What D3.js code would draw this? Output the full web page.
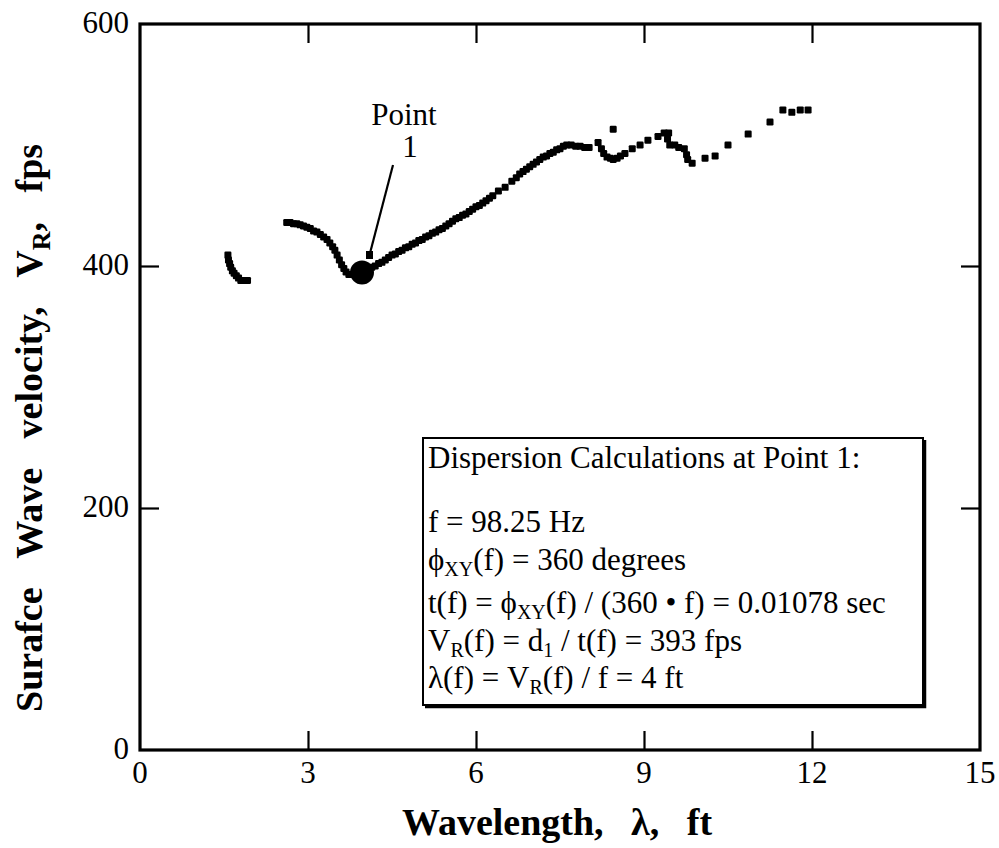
<!DOCTYPE html>
<html>
<head>
<meta charset="utf-8">
<script src="https://d3js.org/d3.v7.min.js"></script>
<style>
  body { margin: 0; background: #fff; }
  svg text { font-family: "Liberation Serif", "Times New Roman", Times, "DejaVu Serif", serif; fill: #000; }
</style>
</head>
<body>
<svg id="chart" width="999" height="848"></svg>
<script>
// data: wavelength (ft) and surface wave velocity (fps)
var lambda = [
  1.57, 1.58, 1.60, 1.62, 1.65, 1.68, 1.72, 1.76, 1.80, 1.86, 1.92,
  2.62, 2.68, 2.74, 2.80, 2.86, 2.92, 2.98, 3.04, 3.10, 3.16, 3.22, 3.28, 3.34, 3.39, 3.44, 3.48,
  3.52, 3.56, 3.60, 3.64, 3.68, 3.73, 3.78, 3.84, 3.90, 3.96,
  4.02, 4.08, 4.14, 4.20, 4.26, 4.32, 4.38, 4.44, 4.50, 4.56, 4.62, 4.68, 4.74, 4.80, 4.86, 4.92,
  4.98, 5.04, 5.10, 5.16, 5.22, 5.28, 5.34, 5.40, 5.46, 5.52, 5.58, 5.64, 5.70, 5.76, 5.82, 5.88,
  5.94, 6.00, 6.06, 6.12, 6.18, 6.24, 6.30, 6.40, 6.52, 6.64, 6.72, 6.78, 6.84, 6.90, 6.96, 7.02,
  7.08, 7.14, 7.20, 7.26, 7.32, 7.38, 7.44, 7.50, 7.56, 7.62, 7.70, 7.78, 7.86, 7.94, 8.02,
  8.18, 8.24, 8.28, 8.34, 8.40, 8.45, 8.52, 8.58, 8.45, 8.66, 8.79, 8.93, 9.07, 9.25, 9.36, 9.44,
  9.42, 9.46, 9.55, 9.62, 9.72, 9.76, 9.78, 9.86, 10.09, 10.27, 10.50, 10.86, 11.25, 11.48, 11.64,
  11.79, 11.93
];
var velocity = [
  409, 405, 402, 399, 396, 394, 392, 390, 388, 388, 388,
  436, 436, 435, 435, 434, 433, 432, 431, 429, 428, 426, 424, 422, 419, 416, 413,
  409, 405, 401, 398, 395, 393, 393, 393, 393, 394,
  396, 397, 399, 400, 402, 403, 405, 407, 409, 410, 412, 413, 415, 416, 418, 419,
  421, 422, 424, 425, 427, 428, 430, 431, 433, 435, 437, 439, 440, 442, 443, 445,
  447, 449, 450, 452, 454, 456, 458, 462, 465, 470, 473, 476, 478, 480, 482, 484,
  486, 488, 490, 491, 493, 494, 496, 497, 499, 500, 500, 499, 499, 498, 498,
  502, 497, 493, 490, 489, 488, 489, 491, 513, 493, 497, 500, 504, 507, 510, 510,
  505, 500, 500, 498, 497, 492, 488, 485, 489, 491, 500, 509, 519, 529, 527,
  529, 529
];
var point1 = { lambda: 4.0, velocity: 393 };
var xTicks = [0, 3, 6, 9, 12, 15];
var yTicks = [0, 200, 400, 600];
var calcLines = [
  [["Dispersion Calculations at Point 1:", 0]],
  [["f = 98.25 Hz", 0]],
  [["\u03D5", 0], ["XY", 1], ["(f) = 360 degrees", 0]],
  [["t(f) = \u03D5", 0], ["XY", 1], ["(f) / (360 \u2022 f) = 0.01078 sec", 0]],
  [["V", 0], ["R", 1], ["(f) = d", 0], ["1", 1], [" / t(f) = 393 fps", 0]],
  [["\u03BB(f) = V", 0], ["R", 1], ["(f) / f = 4 ft", 0]]
];

var serif = "'Liberation Serif', 'Times New Roman', Times, 'DejaVu Serif', serif";
var margin = { left: 140, right: 19, top: 24, bottom: 98 };
var W = 999, H = 848;
var svg = d3.select("#chart");

var x = d3.scaleLinear().domain([0, 15]).range([margin.left, W - margin.right]);
var y = d3.scaleLinear().domain([0, 600]).range([H - margin.bottom, margin.top]);

var tickLen = 19;
var g = svg.append("g");

// ticks, all pointing inward
var inner = xTicks.slice(1, -1);
g.append("g").attr("transform", "translate(0," + y(0) + ")")
  .call(d3.axisBottom(x).tickValues(inner).tickSize(-tickLen).tickFormat(""))
  .call(a => a.select(".domain").remove());
g.append("g").attr("transform", "translate(0," + y(600) + ")")
  .call(d3.axisTop(x).tickValues(inner).tickSize(-tickLen).tickFormat(""))
  .call(a => a.select(".domain").remove());
var innerY = yTicks.slice(1, -1);
g.append("g").attr("transform", "translate(" + x(0) + ",0)")
  .call(d3.axisLeft(y).tickValues(innerY).tickSize(-tickLen).tickFormat(""))
  .call(a => a.select(".domain").remove());
g.append("g").attr("transform", "translate(" + x(15) + ",0)")
  .call(d3.axisRight(y).tickValues(innerY).tickSize(-tickLen).tickFormat(""))
  .call(a => a.select(".domain").remove());
g.selectAll(".tick line").attr("stroke", "#000").attr("stroke-width", 2.2);

// frame
g.append("rect")
  .attr("x", x(0)).attr("y", y(600))
  .attr("width", x(15) - x(0)).attr("height", y(0) - y(600))
  .attr("fill", "none").attr("stroke", "#000").attr("stroke-width", 3.2);

// tick labels
g.selectAll(".xl").data(xTicks).enter().append("text")
  .attr("font-family", serif)
  .attr("x", d => x(d)).attr("y", y(0) + 33)
  .attr("text-anchor", "middle").attr("font-size", 31)
  .text(d => d);
g.selectAll(".yl").data(yTicks).enter().append("text")
  .attr("font-family", serif)
  .attr("x", x(0) - 11).attr("y", d => y(d) + 9)
  .attr("text-anchor", "end").attr("font-size", 31)
  .text(d => d);

// axis titles
svg.append("text")
  .attr("font-family", serif)
  .attr("x", 402).attr("y", 835)
  .attr("font-size", 38).attr("font-weight", "bold")
  .attr("word-spacing", 18)
  .text("Wavelength, \u03BB, ft");

var yt = svg.append("text")
  .attr("font-family", serif)
  .attr("transform", "translate(42,712) rotate(-90)")
  .attr("font-size", 38).attr("font-weight", "bold")
  .attr("word-spacing", 20);
yt.append("tspan").text("Surafce Wave velocity, V");
yt.append("tspan").attr("font-size", 26).attr("dy", 8).text("R");
yt.append("tspan").attr("dy", -8).text(", fps");

// data markers
var pts = lambda.map((l, i) => ({ l: l, v: velocity[i] }));
var s = 7;
g.selectAll(".pt").data(pts).enter().append("rect")
  .attr("x", d => x(d.l) - s / 2).attr("y", d => y(d.v) - s / 2)
  .attr("width", s).attr("height", s).attr("rx", 1.2)
  .attr("fill", "#000");

// point 1 marker and annotation
g.append("circle")
  .attr("cx", x(point1.lambda) - 2).attr("cy", y(point1.velocity) - 2)
  .attr("r", 12).attr("fill", "#000");
g.append("line")
  .attr("x1", 393).attr("y1", 165).attr("x2", 369).attr("y2", 257)
  .attr("stroke", "#000").attr("stroke-width", 2.2);
g.append("rect").attr("x", 366).attr("y", 251).attr("width", 7).attr("height", 8).attr("fill", "#000");
g.append("text").attr("font-family", serif).attr("x", 404).attr("y", 125).attr("text-anchor", "middle")
  .attr("font-size", 31).text("Point");
g.append("text").attr("font-family", serif).attr("x", 410).attr("y", 157).attr("text-anchor", "middle")
  .attr("font-size", 31).text("1");

// calculation box
var bx = 423, by = 438, bw = 500, bh = 267;
g.append("rect").attr("x", bx).attr("y", by).attr("width", bw).attr("height", bh)
  .attr("fill", "#fff").attr("stroke", "#000").attr("stroke-width", 2);
g.append("path")
  .attr("d", "M" + (bx + 2) + "," + (by + bh + 1.5) + "H" + (bx + bw + 1.5) + "V" + (by + 2))
  .attr("fill", "none").attr("stroke", "#000").attr("stroke-width", 3.5);

var baselines = [468, 532, 570, 613, 651, 688];
calcLines.forEach(function(parts, i) {
  var t = g.append("text").attr("font-family", serif)
    .attr("x", bx + 5).attr("y", baselines[i]).attr("font-size", 31);
  var shift = 0;
  parts.forEach(function(p) {
    var sub = p[1] === 1;
    var dy = sub ? 6 - shift : -shift;
    shift = sub ? 6 : 0;
    t.append("tspan").attr("dy", dy).attr("font-size", sub ? 20 : 31).text(p[0]);
  });
});
</script>
</body>
</html>
